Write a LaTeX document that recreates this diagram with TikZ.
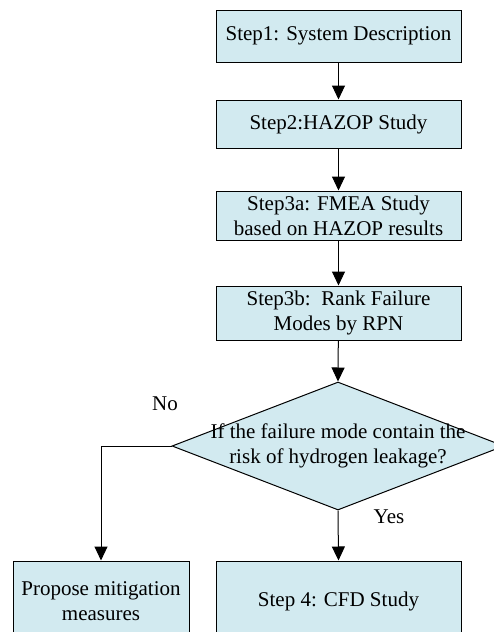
\documentclass[tikz,border=0pt]{standalone}
\usepackage{fontspec}
\setmainfont{Liberation Serif}
\usetikzlibrary{arrows.meta,shapes.geometric}
\definecolor{boxfill}{RGB}{210,234,240}
\begin{document}
\begin{tikzpicture}[x=1pt,y=-1pt,
  stepbox/.style={draw=black,line width=1pt,fill=boxfill,rectangle,inner sep=0pt,
    align=center,font=\fontsize{21}{25}\selectfont},
  lbl/.style={font=\fontsize{21}{25}\selectfont,inner sep=0pt},
  arr/.style={line width=1pt,-{Triangle[length=14pt,width=13pt]}}]
\useasboundingbox (0,0) rectangle (493,632);
\node[stepbox,minimum width=245pt,minimum height=52pt] (s1) at (338.5,36) {Step1: System Description};
\node[stepbox,minimum width=245pt,minimum height=48pt] (s2) at (338.5,124) {Step2:HAZOP Study};
\node[stepbox,minimum width=245pt,minimum height=49pt] (s3) at (338.5,215.5) {Step3a: FMEA Study\\based on HAZOP results};
\node[stepbox,minimum width=245pt,minimum height=54pt] (s4) at (338.5,313) {Step3b:\ \ Rank Failure\\Modes by RPN};
\node[draw=black,line width=1pt,fill=boxfill,diamond,minimum width=332pt,minimum height=128pt,inner sep=0pt] (d) at (338,446) {};
\node[lbl,align=center] (dt) at (338,446) {If the failure mode contain the\\risk of hydrogen leakage?};
\node[stepbox,minimum width=176pt,minimum height=80pt] (pm) at (101,601) {Propose mitigation\\measures};
\node[stepbox,minimum width=245pt,minimum height=80pt] (cfd) at (338.5,601) {\raisebox{0pt}{Step 4: CFD Study}};
\node[lbl] (no) at (165,404) {No};
\node[lbl] (yes) at (389,517) {Yes};
\draw[arr] (s1) -- (s2);
\draw[arr] (s2) -- (s3);
\draw[arr] (s3) -- (s4);
\draw[arr] (s4) -- (d.north);
\draw[arr] (d.south) -- (cfd.north);
\draw[arr] (d.west) -| (pm.north);
\end{tikzpicture}
\end{document}
